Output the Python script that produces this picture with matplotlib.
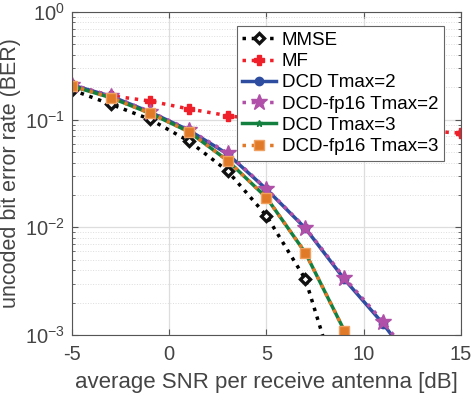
import matplotlib
matplotlib.use("Agg")
import matplotlib.pyplot as plt
from matplotlib.ticker import LogLocator, NullFormatter

plt.rcParams['font.family'] = ['Liberation Sans', 'DejaVu Sans']
plt.rcParams['axes.unicode_minus'] = False
plt.rcParams['mathtext.fontset'] = 'custom'
plt.rcParams['mathtext.rm'] = 'Liberation Sans'

# SNR points [dB]
snr = [-5, -3, -1, 1, 3, 5, 7, 9, 11, 13, 15]

# BER values
ber_mmse = [0.189, 0.139, 0.101, 0.0634, 0.0334, 0.0128, 0.0033, 0.00022]
ber_mf = [0.21, 0.167, 0.149, 0.126, 0.109, 0.098, 0.092, 0.087, 0.083, 0.079, 0.075]
ber_dcd2 = [0.21, 0.165, 0.118, 0.080, 0.048, 0.0226, 0.0098, 0.0033, 0.00127, 0.00042]
ber_fp16_2 = [0.212, 0.166, 0.119, 0.081, 0.049, 0.0228, 0.0099, 0.0034, 0.00133, 0.00045]
ber_dcd3 = [0.205, 0.16, 0.115, 0.0775, 0.0417, 0.0189, 0.0058, 0.0011, 0.00012]
ber_fp16_3 = [0.206, 0.16, 0.115, 0.0775, 0.0417, 0.0189, 0.0058, 0.0011, 0.00012]

fig = plt.figure(figsize=(4.73, 3.99), dpi=100)
ax = fig.add_axes([0.1522, 0.1604, 0.8224, 0.8095])

ax.plot(snr[:len(ber_mmse)], ber_mmse, ':', color='black', lw=2.5,
        marker='D', ms=5.5, mfc='white', mec='#111111', mew=2.4, label='MMSE')
ax.plot(snr[:len(ber_mf)], ber_mf, ':', color='#F0202A', lw=2.5,
        marker='P', ms=7, mfc='#F0202A', mec='#F0202A', label='MF')
ax.plot(snr[:len(ber_dcd2)], ber_dcd2, '-', color='#2E4DA0', lw=2.5,
        marker='o', ms=6, mfc='#2E4DA0', mec='#2E4DA0', label='DCD Tmax=2')
ax.plot(snr[:len(ber_fp16_2)], ber_fp16_2, ':', color='#B050A8', lw=2.5,
        marker='*', ms=12, mfc='#B050A8', mec='#B050A8', label='DCD-fp16 Tmax=2')
ax.plot(snr[:len(ber_dcd3)], ber_dcd3, '-', color='#138040', lw=2.5,
        marker='*', ms=5, mfc='#138040', mec='#138040', label='DCD Tmax=3')
ax.plot(snr[:len(ber_fp16_3)], ber_fp16_3, ':', color='#E07A28', lw=2.5,
        marker='s', ms=7, mfc='#E07A28', mec='#F0A060', mew=1, label='DCD-fp16 Tmax=3')

ax.set_yscale('log')
ax.set_xlim(-5, 15)
ax.set_ylim(1e-3, 1)
ax.set_xticks([-5, 0, 5, 10, 15])
ax.yaxis.set_major_locator(LogLocator(base=10, numticks=10))
ax.yaxis.set_minor_locator(LogLocator(base=10, subs=range(2, 10), numticks=10))
ax.yaxis.set_minor_formatter(NullFormatter())

ax.grid(True, which='major', color='#DDDDDD', lw=0.9)
ax.grid(True, which='minor', axis='y', color='#DDDDDD', lw=0.7, ls=':')
ax.set_axisbelow(True)

for s in ax.spines.values():
    s.set_color('#555555')
    s.set_linewidth(0.8)
ax.tick_params(which='both', direction='in', top=True, right=True,
               colors='#555555', labelcolor='#444444', labelsize=14.5)
ax.tick_params(which='major', length=4)
ax.tick_params(which='minor', length=2)
ax.tick_params(axis='x', pad=7)
ax.tick_params(axis='y', pad=5)

ax.set_xlabel('average SNR per receive antenna [dB]', fontsize=16, color='#444444',
              labelpad=6)
ax.set_ylabel('uncoded bit error rate (BER)', fontsize=15.5, color='#444444', labelpad=3)

leg = ax.legend(loc='upper right', bbox_to_anchor=(0.98, 0.985), fontsize=13.5,
                frameon=True, fancybox=False, edgecolor='#666666', framealpha=1,
                handlelength=1.8, handletextpad=0.3, borderpad=0.3,
                labelspacing=0.22)
leg.get_frame().set_linewidth(0.8)
for t in leg.get_texts():
    t.set_color('black')

fig.savefig('out.png', dpi=100)
